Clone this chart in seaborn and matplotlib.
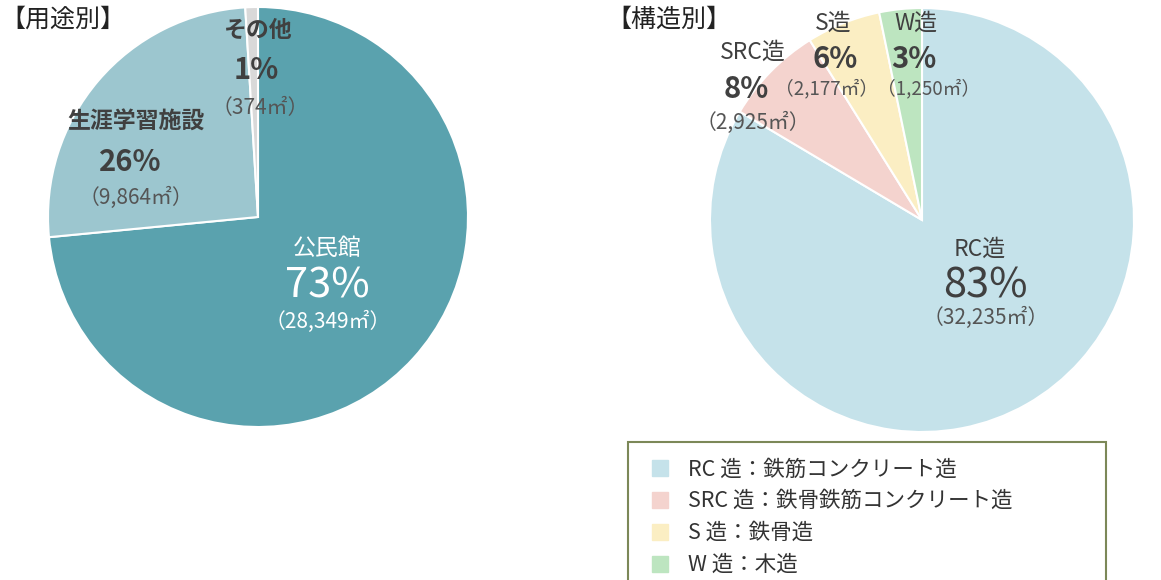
import numpy as np
import pandas as pd
import matplotlib
matplotlib.use("Agg")
import matplotlib.pyplot as plt
from matplotlib.lines import Line2D
import seaborn as sns

# data
use_labels = ["公民館", "生涯学習施設", "その他"]
use_area = [28349, 9864, 374]
use_pct = ["73%", "26%", "1%"]
use_colors = ["#5aa2ae", "#9cc6cf", "#d9d9d9"]

str_labels = ["RC造", "SRC造", "S造", "W造"]
str_area = [32235, 2925, 2177, 1250]
str_pct = ["83%", "8%", "6%", "3%"]
str_colors = ["#c5e2ea", "#f4d3ce", "#fbeec3", "#bde5c0"]
legend_labels = ["RC 造：鉄筋コンクリート造", "SRC 造：鉄骨鉄筋コンクリート造",
                 "S 造：鉄骨造", "W 造：木造"]

sns.set_theme(style="white")
plt.rcParams['font.family'] = ['Noto Sans CJK JP', 'DejaVu Sans']

W, H = 1161, 580
fig = plt.figure(figsize=(W / 100, H / 100), dpi=100)


def pie_axes(cx, cy, r):
    return fig.add_axes([(cx - r) / W, (H - cy - r) / H, 2 * r / W, 2 * r / H])


def draw_pie(ax, values, colors):
    ax.pie(values, colors=colors, startangle=90, counterclock=False,
           wedgeprops=dict(edgecolor="white", linewidth=1.5))
    ax.set_xlim(-1, 1)
    ax.set_ylim(-1, 1)
    ax.axis("off")


def area_text(a):
    return "（{:,}㎡）".format(a)


dark = "#404040"
grey = "#555555"
lab_fs, big_fs, pct_fs, area_fs = 16.5, 30, 21, 15

# left pie
ax1 = pie_axes(258, 217, 210)
draw_pie(ax1, use_area, use_colors)
# 公民館
ax1.text(0.33, -0.15, use_labels[0], color="white", fontsize=lab_fs, ha="center", va="center")
ax1.text(0.33, -0.33, use_pct[0], color="white", fontsize=big_fs, ha="center", va="center")
ax1.text(0.33, -0.50, area_text(use_area[0]), color="white", fontsize=area_fs, ha="center", va="center")
# 生涯学習施設
ax1.text(-0.58, 0.45, use_labels[1], color=dark, fontsize=lab_fs, fontweight="bold", ha="center", va="center")
ax1.text(-0.61, 0.26, use_pct[1], color=dark, fontsize=pct_fs, fontweight="bold", ha="center", va="center")
ax1.text(-0.58, 0.09, area_text(use_area[1]), color=grey, fontsize=area_fs, ha="center", va="center")
# その他
ax1.text(0.0, 0.89, use_labels[2], color=dark, fontsize=lab_fs, fontweight="bold", ha="center", va="center")
ax1.text(-0.01, 0.70, use_pct[2], color=dark, fontsize=pct_fs, fontweight="bold", ha="center", va="center")
ax1.text(0.01, 0.52, area_text(use_area[2]), color=grey, fontsize=area_fs, ha="center", va="center")

# right pie
ax2 = pie_axes(922, 220, 212)
draw_pie(ax2, str_area, str_colors)
ax2.text(0.27, -0.14, str_labels[0], color=dark, fontsize=lab_fs, ha="center", va="center")
ax2.text(0.30, -0.31, str_pct[0], color=dark, fontsize=big_fs, ha="center", va="center")
ax2.text(0.30, -0.46, area_text(str_area[0]), color=grey, fontsize=area_fs, ha="center", va="center")

ax2.text(-0.80, 0.79, str_labels[1], color=dark, fontsize=lab_fs, ha="center", va="center")
ax2.text(-0.83, 0.62, str_pct[1], color=dark, fontsize=pct_fs, fontweight="bold", ha="center", va="center")
ax2.text(-0.80, 0.46, area_text(str_area[1]), color=grey, fontsize=area_fs, ha="center", va="center")

ax2.text(-0.42, 0.93, str_labels[2], color=dark, fontsize=lab_fs, ha="center", va="center")
ax2.text(-0.41, 0.76, str_pct[2], color=dark, fontsize=pct_fs, fontweight="bold", ha="center", va="center")
ax2.text(-0.45, 0.62, area_text(str_area[2]), color=grey, fontsize=13.5, ha="center", va="center")

ax2.text(-0.03, 0.93, str_labels[3], color=dark, fontsize=lab_fs, ha="center", va="center")
ax2.text(-0.04, 0.76, str_pct[3], color=dark, fontsize=pct_fs, fontweight="bold", ha="center", va="center")
ax2.text(0.03, 0.62, area_text(str_area[3]), color=grey, fontsize=13.5, ha="center", va="center")

# titles
fig.text(0 / W, 1 - 20 / H, "【用途別】", fontsize=18, color="#222222", ha="left", va="center")
fig.text(606 / W, 1 - 20 / H, "【構造別】", fontsize=18, color="#222222", ha="left", va="center")

# legend
handles = [Line2D([0], [0], marker="s", linestyle="none", markersize=12,
                  markerfacecolor=c, markeredgecolor=c) for c in str_colors]
leg = fig.legend(handles, legend_labels, loc="upper left",
                 bbox_to_anchor=(628 / W, 1 - 448 / H, 478 / W, 0.01), mode="expand",
                 frameon=True, fancybox=False,
                 fontsize=15.5, labelspacing=0.46, handletextpad=0.55, borderpad=0.75,
                 borderaxespad=0, handlelength=1.5)
frame = leg.get_frame()
frame.set_edgecolor("#5b6b2e")
frame.set_linewidth(1.5)
for t in leg.get_texts():
    t.set_color("#333333")

fig.savefig("out.png", dpi=100)
